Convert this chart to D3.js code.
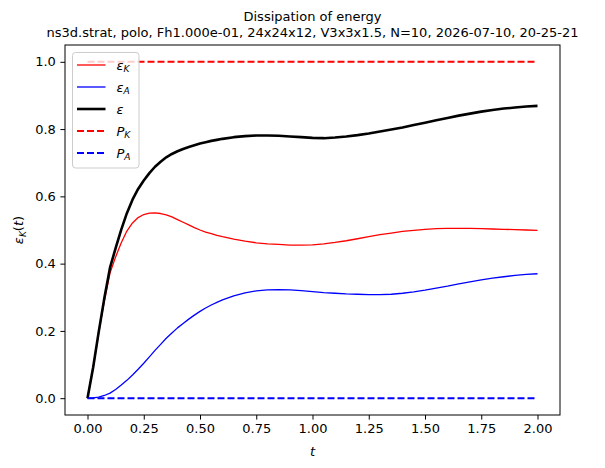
<!DOCTYPE html>
<html>
<head>
<meta charset="utf-8">
<script src="https://cdn.jsdelivr.net/npm/d3@7"></script>
<style>
html,body{margin:0;padding:0;background:#fff;}
text{font-family:"DejaVu Sans",sans-serif;}
</style>
</head>
<body>
<svg id="chart" width="605" height="468"></svg>
<script>
const titleLines = ["Dissipation of energy",
  "ns3d.strat, polo, Fh1.000e-01, 24x24x12, V3x3x1.5, N=10, 2026-07-10, 20-25-21"];
const xTicks = [0, 0.25, 0.5, 0.75, 1.0, 1.25, 1.5, 1.75, 2.0];
const yTicks = [0, 0.2, 0.4, 0.6, 0.8, 1.0];

const times = [0,0.025,0.05,0.075,0.1,0.125,0.15,0.175,0.2,0.225,0.25,0.275,0.3,0.325,0.35,0.375,0.4,0.425,0.45,0.475,
  0.5,0.525,0.55,0.575,0.6,0.65,0.7,0.75,0.8,0.85,0.9,0.95,
  1.0,1.05,1.1,1.15,1.2,1.25,1.3,1.35,1.4,1.45,1.5,1.55,1.6,1.65,1.7,1.75,1.8,1.85,1.9,1.95,2.0];
const epsK = [0,0.090,0.195,0.290,0.372,0.420,0.462,0.497,0.521,0.537,0.546,0.550,0.551,0.549,0.545,0.539,0.531,0.523,0.515,0.507,
  0.500,0.494,0.489,0.484,0.480,0.473,0.467,0.462,0.459,0.457,0.455,0.455,
  0.456,0.459,0.463,0.468,0.474,0.480,0.486,0.491,0.496,0.499,0.502,0.504,0.505,0.505,0.505,0.504,0.503,0.502,0.501,0.500,0.499];
const epsA = [0,0.001,0.003,0.008,0.015,0.026,0.039,0.053,0.069,0.086,0.104,0.123,0.142,0.160,0.178,0.194,0.209,0.222,0.235,0.247,
  0.258,0.268,0.277,0.285,0.292,0.304,0.313,0.319,0.322,0.323,0.322,0.320,
  0.317,0.314,0.312,0.310,0.309,0.308,0.308,0.309,0.312,0.316,0.321,0.327,0.333,0.340,0.346,0.352,0.357,0.361,0.365,0.368,0.370];
const eps = [0,0.091,0.198,0.298,0.388,0.446,0.501,0.550,0.590,0.622,0.647,0.669,0.688,0.703,0.716,0.726,0.734,0.741,0.747,0.752,
  0.757,0.761,0.765,0.768,0.771,0.776,0.779,0.781,0.781,0.780,0.778,0.776,
  0.774,0.773,0.775,0.778,0.782,0.787,0.793,0.799,0.805,0.812,0.819,0.826,0.833,0.840,0.846,0.852,0.857,0.861,0.864,0.867,0.869];
const timesP = [0, 2.0];
const PK = [1.0, 1.0];
const PA = [0.0, 0.0];

const svg = d3.select("#chart");
const L = 65, R = 560, T = 45, B = 415;
const x = d3.scaleLinear().domain([-0.1, 2.1]).range([L, R]);
const y = d3.scaleLinear().domain([-0.05, 1.05]).range([B, T]);
const FS = 13;

svg.append("rect").attr("width",605).attr("height",468).attr("fill","#fff");

const series = [
  {t: times, v: epsK, color: "red", w: 1.3, dash: null, sym: "ε", sub: "K"},
  {t: times, v: epsA, color: "blue", w: 1.3, dash: null, sym: "ε", sub: "A"},
  {t: times, v: eps, color: "black", w: 2.6, dash: null, sym: "ε", sub: null},
  {t: timesP, v: PK, color: "red", w: 2.0, dash: "7,3", sym: "P", sub: "K"},
  {t: timesP, v: PA, color: "blue", w: 2.0, dash: "7,3", sym: "P", sub: "A"}
];

const plot = svg.append("g");
series.forEach(s => {
  const line = d3.line().x((d,i) => x(s.t[i])).y(d => y(d));
  plot.append("path").datum(s.v).attr("d", line)
    .attr("fill","none").attr("stroke", s.color).attr("stroke-width", s.w)
    .attr("stroke-dasharray", s.dash).attr("stroke-linejoin","round");
});

// axes
const xAxis = svg.append("g").attr("transform",`translate(0,${B})`)
  .call(d3.axisBottom(x).tickValues(xTicks).tickFormat(d3.format(".2f")).tickSizeOuter(0).tickSize(4.6).tickPadding(4.6));
const yAxis = svg.append("g").attr("transform",`translate(${L},0)`)
  .call(d3.axisLeft(y).tickValues(yTicks).tickFormat(d3.format(".1f")).tickSizeOuter(0).tickSize(4.6).tickPadding(4.6));
[xAxis, yAxis].forEach(a => {
  a.select(".domain").remove();
  a.selectAll("text").attr("font-size", FS).attr("fill","#000").attr("font-family","DejaVu Sans");
  a.selectAll("line").attr("stroke","#000").attr("stroke-width",1);
});
svg.append("rect").attr("x",L).attr("y",T).attr("width",R-L).attr("height",B-T)
  .attr("fill","none").attr("stroke","#000").attr("stroke-width",1);

// title
svg.append("text").attr("x",(L+R)/2).attr("y",21).attr("text-anchor","middle")
  .attr("font-size",FS).text(titleLines[0]);
svg.append("text").attr("x",(L+R)/2).attr("y",36.5).attr("text-anchor","middle")
  .attr("font-size",FS).text(titleLines[1]);

// x label
svg.append("text").attr("x",(L+R)/2).attr("y",456).attr("text-anchor","middle")
  .attr("font-size",FS).attr("font-style","italic").text("t");

// y label
const yl = svg.append("text").attr("transform",`translate(23,${(T+B)/2}) rotate(-90)`)
  .attr("text-anchor","middle").attr("font-size",FS);
yl.append("tspan").attr("font-style","italic").text("ε");
yl.append("tspan").attr("font-style","italic").attr("font-size",FS*0.7).attr("dy",2.5).text("K");
yl.append("tspan").attr("dy",-2.5).text("(");
yl.append("tspan").attr("font-style","italic").text("t");
yl.append("tspan").text(")");

// legend
const lg = svg.append("g");
lg.append("rect").attr("x",72.5).attr("y",52.5).attr("width",66.5).attr("height",115.5)
  .attr("rx",3).attr("fill","#fff").attr("fill-opacity",0.8).attr("stroke","#ccc").attr("stroke-width",1);
series.forEach((s,i) => {
  const cy = 65 + i*22;
  lg.append("line").attr("x1",77).attr("x2",105.5).attr("y1",cy).attr("y2",cy)
    .attr("stroke",s.color).attr("stroke-width",s.w).attr("stroke-dasharray",s.dash);
  const tx = lg.append("text").attr("x",116.5).attr("y",cy+4.5).attr("font-size",FS);
  tx.append("tspan").attr("font-style","italic").text(s.sym);
  if (s.sub) tx.append("tspan").attr("font-style","italic").attr("font-size",FS*0.7).attr("dy",2.5).text(s.sub);
});
</script>
</body>
</html>
